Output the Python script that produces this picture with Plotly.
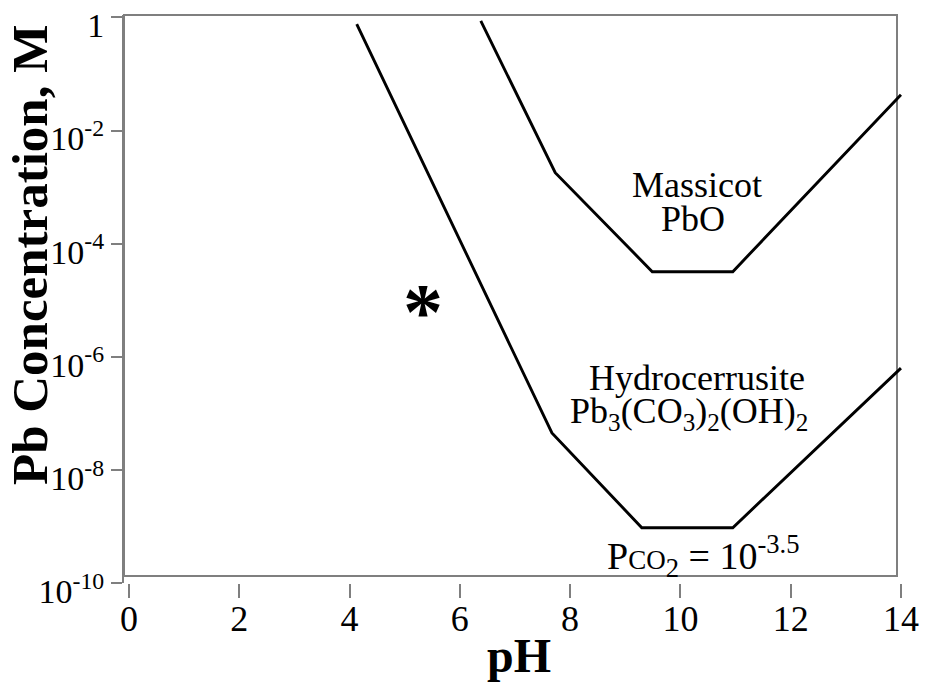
import plotly.graph_objects as go

# Data (pH vs Pb concentration, M)
hydro_ph = [4.13, 7.67, 9.30, 10.95, 14.0]
hydro_conc = [7.6e-1, 4.5e-8, 9.5e-10, 9.5e-10, 6.3e-7]

massicot_ph = [6.38, 7.73, 9.49, 10.95, 14.0]
massicot_conc = [8.7e-1, 1.8e-3, 3.2e-5, 3.2e-5, 4.3e-2]

x_ticks = [0, 2, 4, 6, 8, 10, 12, 14]
y_tickvals = [1e-10, 1e-8, 1e-6, 1e-4, 1e-2, 1]
y_ticktext = ["10<sup>-10</sup>", "10<sup>-8</sup>", "10<sup>-6</sup>",
              "10<sup>-4</sup>", "10<sup>-2</sup>", "1"]

W, H = 926, 683
ML, MR, MT, MB = 124, 20, 15, 100
PW, PH = W - ML - MR, H - MT - MB

def px(x):  # pixel -> paper x
    return (x - ML) / PW

def py(y):  # pixel -> paper y
    return (H - MB - y) / PH

SERIF = "Liberation Serif, Times New Roman, serif"
GREY = "#7f7f7f"

fig = go.Figure()
fig.add_trace(go.Scatter(x=massicot_ph, y=massicot_conc, mode="lines",
                         line=dict(color="black", width=2.9), showlegend=False))
fig.add_trace(go.Scatter(x=hydro_ph, y=hydro_conc, mode="lines",
                         line=dict(color="black", width=2.9), showlegend=False))

x0 = -5 / 55.14
fig.update_layout(
    width=W, height=H,
    margin=dict(l=ML, r=MR, t=MT, b=MB, autoexpand=False),
    paper_bgcolor="white", plot_bgcolor="white",
    font=dict(family=SERIF, color="black"),
    xaxis=dict(range=[x0, x0 + PW / 55.14], tickvals=x_ticks, ticks="outside",
               ticklen=14, tickwidth=1.5, tickcolor=GREY, showline=False,
               showgrid=False, zeroline=False, automargin=False,
               ticklabelstandoff=-10, ticklabeloverflow="allow",
               tickfont=dict(family=SERIF, size=36, color="black")),
    yaxis=dict(type="log", range=[-10, 0.044], tickvals=y_tickvals,
               ticktext=y_ticktext, ticks="outside", ticklen=11, tickwidth=1.5,
               tickcolor=GREY, showline=True, linecolor=GREY, linewidth=2,
               showgrid=False, zeroline=False, automargin=False,
               ticklabelshift=8, ticklabeloverflow="allow",
               tickfont=dict(family=SERIF, size=34, color="black")),
)

# plot box
fig.add_shape(type="rect", xref="paper", yref="paper",
              x0=0, x1=px(897), y0=py(576), y1=1,
              line=dict(color=GREY, width=2), layer="below")

def ann(text, x, y, size, bold=False, angle=0):
    fig.add_annotation(text=f"<b>{text}</b>" if bold else text,
                       xref="paper", yref="paper", x=px(x), y=py(y),
                       xanchor="center", yanchor="middle", showarrow=False,
                       textangle=angle,
                       font=dict(family=SERIF, size=size, color="black"))

ann("Pb Concentration, M", 30, 255, 51, bold=True, angle=-90)
ann("pH", 519, 655, 48, bold=True)
ann("Massicot", 697, 185, 36)
ann("PbO", 693, 219, 36)
ann("Hydrocerrusite", 697, 378, 36)
ann("Pb<sub>3</sub>(CO<sub>3</sub>)<sub>2</sub>(OH)<sub>2</sub>", 689, 413, 36)
ann("P<span style='font-size:27px'>CO</span><sub>2</sub> = 10<sup>-3.5</sup>", 703, 556, 38)
ann("*", 423, 312, 80, bold=True)

fig.write_html("out.html")
